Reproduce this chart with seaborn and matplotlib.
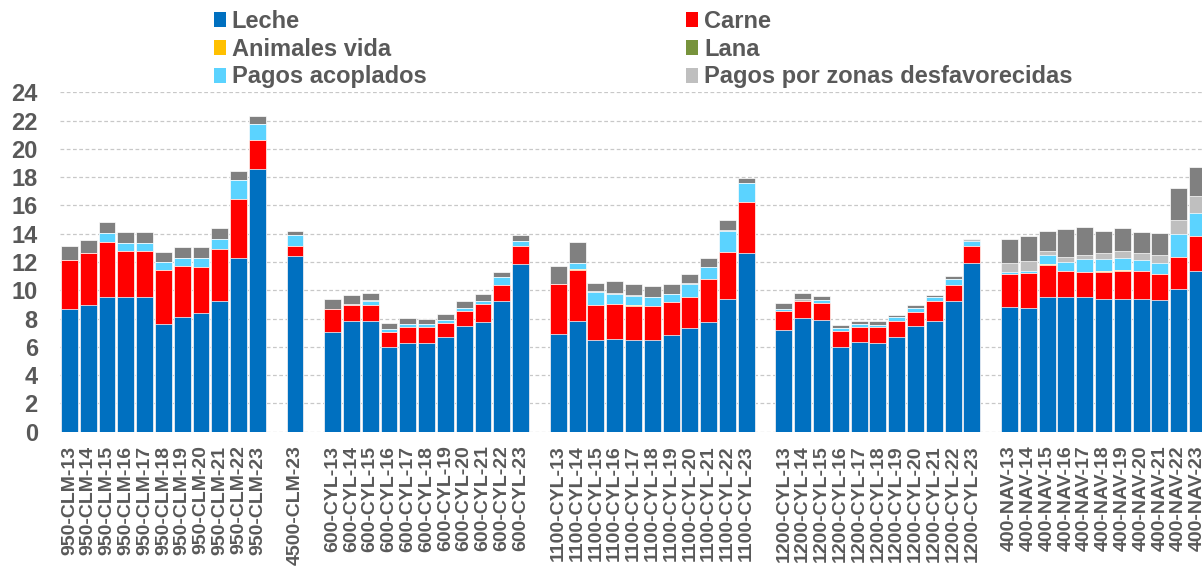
import numpy as np
import pandas as pd
import matplotlib
matplotlib.use('Agg')
import matplotlib.pyplot as plt
from matplotlib.patches import Patch
import seaborn as sns

# ──────────────────────────────────────────────
# Data
# ──────────────────────────────────────────────
YEARS = list(range(13, 24))

CLM950 = [f"950-CLM-{y}" for y in YEARS]
CLM4500 = ["4500-CLM-23"]
CYL600 = [f"600-CYL-{y}" for y in YEARS]
CYL1100 = [f"1100-CYL-{y}" for y in YEARS]
CYL1200 = [f"1200-CYL-{y}" for y in YEARS]
NAV400 = [f"400-NAV-{y}" for y in YEARS]

# blank slots separate the farm groups
ORDER = (CLM950 + [" "] + CLM4500 + ["  "] + CYL600 + ["   "]
         + CYL1100 + ["    "] + CYL1200 + ["     "] + NAV400)
CATEGORIES = CLM950 + CLM4500 + CYL600 + CYL1100 + CYL1200 + NAV400

LECHE = ([8.70, 8.98, 9.50, 9.50, 9.50, 7.64, 8.09, 8.42, 9.22, 12.31, 18.55]
         + [12.45]
         + [7.02, 7.85, 7.85, 5.96, 6.29, 6.29, 6.67, 7.50, 7.78, 9.22, 11.88]
         + [6.91, 7.85, 6.46, 6.53, 6.46, 6.46, 6.81, 7.36, 7.78, 9.41, 12.66]
         + [7.21, 8.06, 7.92, 5.96, 6.32, 6.25, 6.69, 7.50, 7.85, 9.22, 11.90]
         + [8.84, 8.77, 9.50, 9.50, 9.50, 9.41, 9.41, 9.41, 9.34, 10.07, 11.36])

CARNE = ([3.44, 3.68, 3.94, 3.30, 3.30, 3.79, 3.65, 3.23, 3.70, 4.17, 2.08]
         + [0.70]
         + [1.68, 1.11, 1.11, 1.09, 1.11, 1.11, 1.02, 1.06, 1.25, 1.18, 1.27]
         + [3.51, 3.61, 2.50, 2.52, 2.43, 2.43, 2.38, 2.19, 2.99, 3.30, 3.58]
         + [1.35, 1.20, 1.20, 1.16, 1.11, 1.18, 1.16, 0.99, 1.41, 1.18, 1.25]
         + [2.31, 2.45, 2.29, 1.86, 1.79, 1.88, 1.95, 1.95, 1.81, 2.28, 2.45])

ANIMALES = ([0, 0, 0, 0, 0, 0, 0, 0, 0, 0, 0]
            + [0]
            + [0, 0, 0, 0, 0, 0, 0, 0, 0, 0, 0]
            + [0.03, 0.05, 0, 0, 0.04, 0, 0, 0, 0, 0, 0]
            + [0, 0, 0, 0, 0, 0, 0, 0, 0, 0, 0]
            + [0, 0, 0.09, 0, 0, 0.04, 0.07, 0, 0, 0, 0])

LANA = [0] * 56

ACOPLADOS = ([0, 0, 0.59, 0.52, 0.52, 0.59, 0.57, 0.66, 0.68, 1.32, 1.13]
             + [0.73]
             + [0, 0, 0.28, 0.21, 0.21, 0.21, 0.21, 0.21, 0.23, 0.54, 0.36]
             + [0, 0.42, 0.92, 0.66, 0.69, 0.61, 0.52, 0.89, 0.85, 1.50, 1.32]
             + [0.09, 0, 0.17, 0.24, 0.21, 0.14, 0.24, 0.23, 0.24, 0.40, 0.36]
             + [0.14, 0.14, 0.64, 0.66, 0.92, 0.88, 0.88, 0.78, 0.78, 1.65, 1.63])

ZONAS = ([0, 0, 0, 0, 0, 0, 0, 0, 0, 0, 0]
         + [0]
         + [0, 0.10, 0.05, 0, 0, 0, 0, 0, 0, 0, 0]
         + [0, 0, 0.07, 0.07, 0.05, 0.05, 0.05, 0.05, 0.05, 0.05, 0.05]
         + [0.05, 0.12, 0.05, 0, 0, 0, 0, 0.05, 0, 0, 0.09]
         + [0.66, 0.73, 0.28, 0.36, 0.31, 0.45, 0.49, 0.52, 0.59, 0.97, 1.20])

OTROS = ([0.97, 0.87, 0.80, 0.80, 0.80, 0.66, 0.73, 0.73, 0.80, 0.66, 0.56]
         + [0.31]
         + [0.66, 0.58, 0.52, 0.45, 0.45, 0.38, 0.45, 0.45, 0.45, 0.35, 0.37]
         + [1.27, 1.46, 0.56, 0.88, 0.77, 0.73, 0.68, 0.66, 0.64, 0.71, 0.31]
         + [0.38, 0.43, 0.23, 0.18, 0.19, 0.28, 0.18, 0.19, 0.17, 0.19, 0.0]
         + [1.70, 1.72, 1.37, 1.93, 1.95, 1.51, 1.58, 1.44, 1.51, 2.29, 2.05])

LAYERS = ['Leche', 'Carne', 'Animales vida', 'Lana', 'Pagos acoplados',
          'Pagos por zonas desfavorecidas', 'Otros']
COLORS = {'Leche': '#0070C0', 'Carne': '#FF0000', 'Animales vida': '#FFC000',
          'Lana': '#77933C', 'Pagos acoplados': '#5BD3FF',
          'Pagos por zonas desfavorecidas': '#BFBFBF', 'Otros': '#808080'}
LEGEND_ORDER = ['Leche', 'Animales vida', 'Pagos acoplados',
                'Carne', 'Lana', 'Pagos por zonas desfavorecidas']

TEXT_COLOR = '#595959'

# ──────────────────────────────────────────────
# Plot
# ──────────────────────────────────────────────
sns.set_style('white')
plt.rcParams['font.family'] = ['Liberation Sans', 'DejaVu Sans']
plt.rcParams['font.weight'] = 'bold'

df = pd.DataFrame({'cat': CATEGORIES, 'Leche': LECHE, 'Carne': CARNE,
                   'Animales vida': ANIMALES, 'Lana': LANA,
                   'Pagos acoplados': ACOPLADOS,
                   'Pagos por zonas desfavorecidas': ZONAS, 'Otros': OTROS})
cum = df[LAYERS].cumsum(axis=1)
cum['cat'] = df['cat']

fig = plt.figure(figsize=(12.02, 5.70), dpi=100)
ax = fig.add_axes([60 / 1202, (570 - 431.7) / 570, 1142 / 1202, 339.4 / 570])

# stacked bars: draw cumulative totals from the top layer down
for name in reversed(LAYERS):
    sns.barplot(data=cum, x='cat', y=name, order=ORDER, color=COLORS[name],
                saturation=1, width=0.9, errorbar=None,
                edgecolor='white', linewidth=0.5, ax=ax)

ax.set_xlim(-0.5, 60.24)
ax.set_ylim(0, 24)
ax.set_yticks(np.arange(0, 25, 2))
ax.set_xlabel('')
ax.set_ylabel('')
for s in ax.spines.values():
    s.set_visible(False)
ax.yaxis.grid(True, color='#C8C8C8', linestyle=(0, (3, 2)), linewidth=0.9)
ax.set_axisbelow(True)

ax.tick_params(axis='y', length=0, pad=16, labelsize=17, labelcolor=TEXT_COLOR)
ax.tick_params(axis='x', length=0, pad=10, labelsize=14, labelcolor=TEXT_COLOR,
               labelrotation=90)
for lab in ax.get_xticklabels() + ax.get_yticklabels():
    lab.set_fontweight('bold')

handles = [Patch(facecolor=COLORS[n], edgecolor='none') for n in LEGEND_ORDER]
fig.legend(handles, LEGEND_ORDER, loc='upper left',
           bbox_to_anchor=(214 / 1202, 1 - 10 / 570), ncol=2, frameon=False,
           fontsize=17, labelcolor=TEXT_COLOR, handlelength=0.5,
           handleheight=0.6, handletextpad=0.25, columnspacing=11.0,
           labelspacing=0.2, borderpad=0, borderaxespad=0,
           prop={'weight': 'bold', 'size': 17})

plt.savefig('out.png', dpi=100)
